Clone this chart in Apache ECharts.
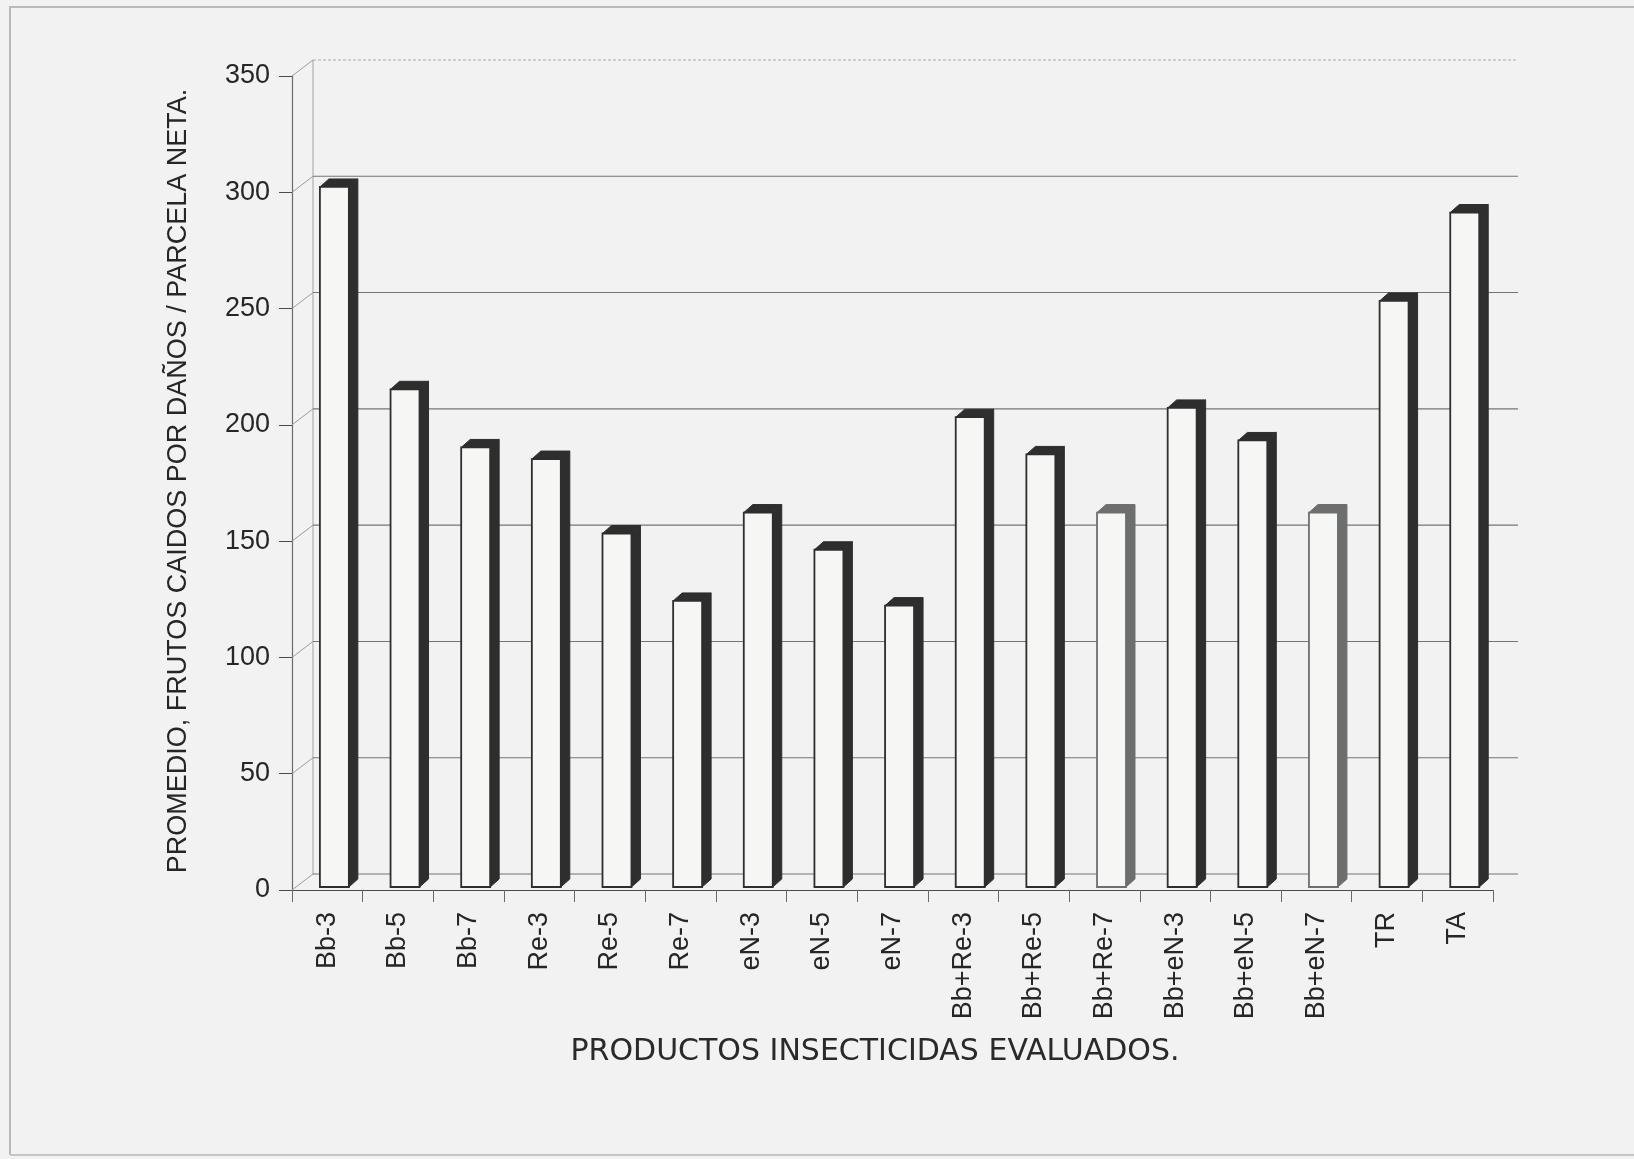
<!DOCTYPE html>
<html>
<head>
<meta charset="utf-8">
<script src="https://cdn.jsdelivr.net/npm/echarts@6/dist/echarts.min.js"></script>
<style>
  html, body { margin: 0; padding: 0; background: #f1f2f1; }
  #chart { width: 1634px; height: 1159px; }
</style>
</head>
<body>
<div id="chart"></div>
<script>
// Treatments evaluated and the mean number of fallen (damaged) fruits per net plot
const categories = ['Bb-3', 'Bb-5', 'Bb-7', 'Re-3', 'Re-5', 'Re-7', 'eN-3', 'eN-5', 'eN-7',
  'Bb+Re-3', 'Bb+Re-5', 'Bb+Re-7', 'Bb+eN-3', 'Bb+eN-5', 'Bb+eN-7', 'TR', 'TA'];
const fallenFruit = [301, 214, 189, 184, 152, 123, 161, 145, 121, 202, 186, 161, 206, 192, 161, 252, 290];
const yTicks = [0, 50, 100, 150, 200, 250, 300, 350];
// Treatments whose columns are drawn in grey instead of black
const greyColumns = ['Bb+Re-7', 'Bb+eN-7'];

const yTitle = 'PROMEDIO, FRUTOS CAIDOS POR DAÑOS / PARCELA NETA.';
const xTitle = 'PRODUCTOS INSECTICIDAS EVALUADOS.';

// pseudo-3D geometry (pixels)
const WALL_DX = 21, WALL_DY = 16;   // back wall offset
const COL_DX = 9, COL_DY = 8;       // column depth
const COL_LIFT = 3;                 // columns sit slightly behind the front plane

const chart = echarts.init(document.getElementById('chart'), null, { renderer: 'canvas' });

function wallRender(params, api) {
  const v = api.value(1);
  const p = api.coord([0, v]);
  const band = api.size([1, 0])[0];
  const left = p[0] - band / 2;
  const right = left + band * categories.length + WALL_DX + 4;
  const y = p[1];
  const isTop = v === yTicks[yTicks.length - 1];
  const col = isTop ? '#a9aba9' : '#747674';
  return {
    type: 'group',
    children: [
      { type: 'line', shape: { x1: left, y1: y, x2: left + WALL_DX, y2: y - WALL_DY },
        style: { stroke: '#9a9c9a', lineWidth: 1 } },
      { type: 'line', shape: { x1: left + WALL_DX, y1: y - WALL_DY, x2: right, y2: y - WALL_DY },
        style: { stroke: col, lineWidth: 1.1, lineDash: isTop ? [3, 2] : null } }
    ]
  };
}

function wallEdgeRender(params, api) {
  const pTop = api.coord([0, yTicks[yTicks.length - 1]]);
  const pBot = api.coord([0, 0]);
  const band = api.size([1, 0])[0];
  const left = pTop[0] - band / 2 + WALL_DX;
  return {
    type: 'line',
    shape: { x1: left, y1: pTop[1] - WALL_DY, x2: left, y2: pBot[1] - WALL_DY },
    style: { stroke: '#a0a2a0', lineWidth: 1 }
  };
}

function columnRender(params, api) {
  const i = api.value(0);
  const v = api.value(1);
  const base = api.coord([i, 0]);
  const top = api.coord([i, v]);
  const band = api.size([1, 0])[0];
  const cx = base[0] + band * 0.1;
  const half = band * 0.205;
  const x0 = cx - half, x1 = cx + half;
  const yb = base[1] - COL_LIFT, yt = top[1] - COL_LIFT;
  const grey = greyColumns.indexOf(categories[i]) >= 0;
  const dark = grey ? '#6c6f6e' : '#2d2e2d';
  return {
    type: 'group',
    children: [
      { type: 'polygon',
        shape: { points: [[x1, yt], [x1 + COL_DX, yt - COL_DY], [x1 + COL_DX, yb - COL_DY], [x1, yb]] },
        style: { fill: dark, stroke: dark, lineWidth: 1 } },
      { type: 'polygon',
        shape: { points: [[x0, yt], [x0 + COL_DX, yt - COL_DY], [x1 + COL_DX, yt - COL_DY], [x1, yt]] },
        style: { fill: dark, stroke: dark, lineWidth: 1 } },
      { type: 'rect',
        shape: { x: x0, y: yt, width: x1 - x0, height: yb - yt },
        style: { fill: '#f6f7f5', stroke: dark, lineWidth: 1.8 } }
    ]
  };
}

chart.setOption({
  backgroundColor: '#f1f2f1',
  animation: false,
  grid: { left: 292, right: 141, top: 76, bottom: 269 },
  xAxis: {
    type: 'category',
    data: categories,
    boundaryGap: true,
    axisLine: { show: true, lineStyle: { color: '#4a4a4a', width: 1.2 } },
    axisTick: { show: true, length: 12, interval: 0, lineStyle: { color: '#6a6a6a' } },
    axisLabel: {
      interval: 0, rotate: 90, margin: 22,
      fontFamily: 'Liberation Sans, Arial, sans-serif', fontSize: 27, color: '#262626'
    },
    splitLine: { show: false }
  },
  yAxis: {
    type: 'value',
    min: 0, max: 350, interval: 50,
    axisLine: { show: true, lineStyle: { color: '#6a6a6a', width: 1.2 } },
    axisTick: { show: true, length: 13, lineStyle: { color: '#4a4a4a' } },
    axisLabel: {
      margin: 22,
      fontFamily: 'Liberation Sans, Arial, sans-serif', fontSize: 27, color: '#262626'
    },
    splitLine: { show: false }
  },
  graphic: [
    { type: 'polyline', silent: true, z: -1,
      shape: { points: [[10, 1155], [10, 7], [1634, 7]] },
      style: { fill: null, stroke: '#b8bab8', lineWidth: 2 } },
    { type: 'line', silent: true, z: -1,
      shape: { x1: 10, y1: 1155, x2: 1634, y2: 1155 },
      style: { stroke: '#c4c6c4', lineWidth: 2 } },
    { type: 'text', silent: true,
      x: 179, y: 481, rotation: Math.PI / 2,
      style: {
        text: yTitle, fontFamily: 'Liberation Sans, Arial, sans-serif', fontSize: 27,
        fill: '#262626', align: 'center', verticalAlign: 'middle'
      } },
    { type: 'text', silent: true,
      x: 875, y: 1052,
      style: {
        text: xTitle, fontFamily: 'DejaVu Sans, sans-serif', fontSize: 30,
        fill: '#2a2a2a', align: 'center', verticalAlign: 'middle'
      } }
  ],
  series: [
    {
      type: 'custom', name: 'wall-edge', clip: false, z: 1,
      data: [[0, 0]],
      renderItem: wallEdgeRender
    },
    {
      type: 'custom', name: 'gridlines', clip: false, z: 1,
      data: yTicks.map(v => [0, v]),
      renderItem: wallRender
    },
    {
      type: 'custom', name: 'Promedio', clip: false, z: 3,
      data: fallenFruit.map((v, i) => [i, v]),
      encode: { x: 0, y: 1 },
      renderItem: columnRender
    }
  ]
});
</script>
</body>
</html>
